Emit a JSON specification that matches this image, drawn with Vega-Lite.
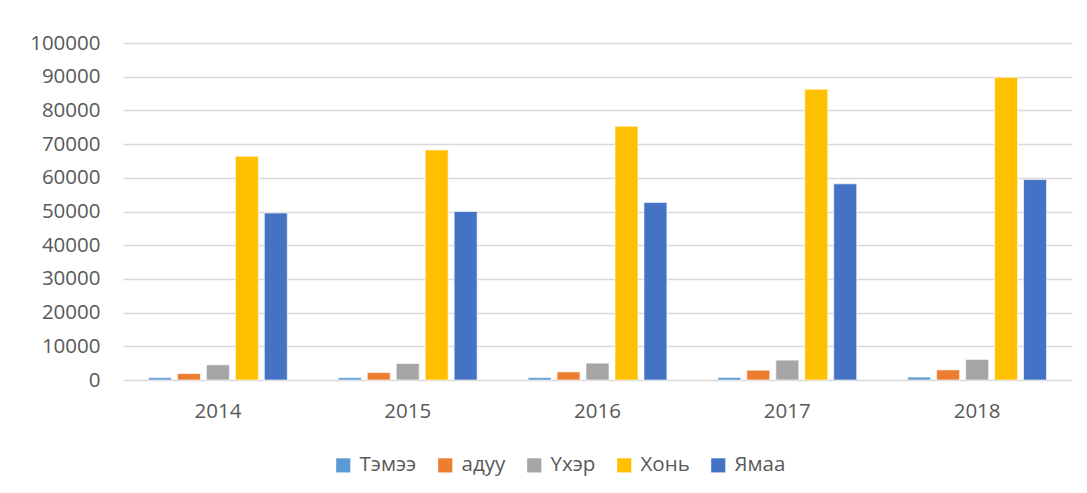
{
  "$schema": "https://vega.github.io/schema/vega-lite/v6.json",
  "autosize": {"type": "none"},
  "padding": {"left": 123, "top": 43, "right": 15, "bottom": 113},
  "width": 949,
  "height": 337,
  "background": "white",
  "config": {
    "font": "Open Sans",
    "view": {"stroke": null}
  },
  "data": {
    "values": [
      {"year": "2014", "type": "Тэмээ", "value": 700},
      {"year": "2014", "type": "адуу", "value": 1900},
      {"year": "2014", "type": "Үхэр", "value": 4500},
      {"year": "2014", "type": "Хонь", "value": 66400},
      {"year": "2014", "type": "Ямаа", "value": 49550},
      {"year": "2015", "type": "Тэмээ", "value": 700},
      {"year": "2015", "type": "адуу", "value": 2200},
      {"year": "2015", "type": "Үхэр", "value": 4900},
      {"year": "2015", "type": "Хонь", "value": 68250},
      {"year": "2015", "type": "Ямаа", "value": 50000},
      {"year": "2016", "type": "Тэмээ", "value": 700},
      {"year": "2016", "type": "адуу", "value": 2400},
      {"year": "2016", "type": "Үхэр", "value": 5000},
      {"year": "2016", "type": "Хонь", "value": 75300},
      {"year": "2016", "type": "Ямаа", "value": 52700},
      {"year": "2017", "type": "Тэмээ", "value": 750},
      {"year": "2017", "type": "адуу", "value": 2900},
      {"year": "2017", "type": "Үхэр", "value": 5900},
      {"year": "2017", "type": "Хонь", "value": 86300},
      {"year": "2017", "type": "Ямаа", "value": 58200},
      {"year": "2018", "type": "Тэмээ", "value": 850},
      {"year": "2018", "type": "адуу", "value": 3000},
      {"year": "2018", "type": "Үхэр", "value": 6100},
      {"year": "2018", "type": "Хонь", "value": 89800},
      {"year": "2018", "type": "Ямаа", "value": 59500}
    ]
  },
  "mark": {"type": "bar", "stroke": "white", "strokeWidth": 1, "strokeOpacity": 0.6},
  "encoding": {
    "x": {
      "field": "year", "type": "nominal",
      "scale": {"paddingInner": 0, "paddingOuter": 0},
      "axis": {"title": null, "labelAngle": 0, "labelFontSize": 20.5, "labelColor": "#595959", "domain": false, "ticks": false, "labelPadding": 21}
    },
    "xOffset": {
      "field": "type", "type": "nominal",
      "sort": ["Тэмээ", "адуу", "Үхэр", "Хонь", "Ямаа"],
      "scale": {"paddingInner": 0.207, "paddingOuter": 0.88}
    },
    "y": {
      "field": "value", "type": "quantitative",
      "scale": {"domain": [0, 100000], "nice": false},
      "axis": {"title": null, "values": [0,10000,20000,30000,40000,50000,60000,70000,80000,90000,100000], "format": "d", "labelOverlap": false, "labelFontSize": 20.5, "labelColor": "#595959", "domain": false, "ticks": false, "labelPadding": 23, "gridColor": "#D9D9D9", "gridWidth": 1.3}
    },
    "color": {
      "field": "type", "type": "nominal",
      "sort": ["Тэмээ", "адуу", "Үхэр", "Хонь", "Ямаа"],
      "scale": {"domain": ["Тэмээ", "адуу", "Үхэр", "Хонь", "Ямаа"], "range": ["#5B9BD5", "#ED7D31", "#A5A5A5", "#FFC000", "#4472C4"]},
      "legend": {
        "title": null, "orient": "none", "direction": "horizontal",
        "legendX": 210, "legendY": 412,
        "symbolType": "square", "symbolSize": 200, "symbolStrokeWidth": 0,
        "labelFontSize": 20.5, "labelColor": "#595959", "labelOffset": 6, "columnPadding": 18
      }
    }
  }
}
